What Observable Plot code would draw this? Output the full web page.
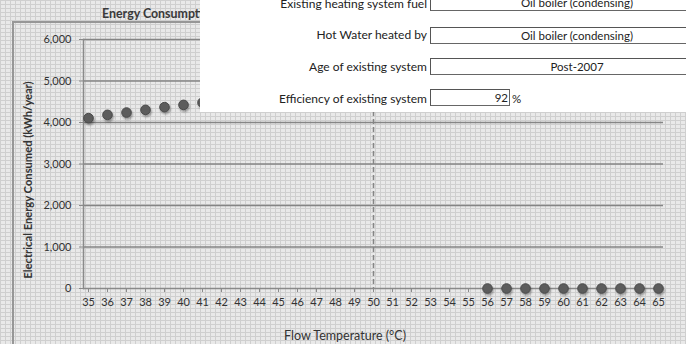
<!DOCTYPE html>
<html>
<head>
<meta charset="utf-8">
<script src="https://cdn.jsdelivr.net/npm/d3@7"></script>
<script src="https://cdn.jsdelivr.net/npm/@observablehq/plot@0.6"></script>
<style>
  html, body { margin: 0; padding: 0; }
  body {
    width: 686px; height: 344px; overflow: hidden; position: relative;
    font-family: Lato, "Open Sans", sans-serif;
    background-color: #e9e9e9;
    background-image:
      linear-gradient(to right, #cfcfcf 1px, transparent 1px),
      linear-gradient(to bottom, #cfcfcf 1px, transparent 1px);
    background-size: 5px 4px;
  }
  #border { position: absolute; left: 12px; top: 21px; width: 700px; height: 400px;
    border-left: 2px solid #979797; border-top: 2px solid #979797; }
  #titleclip { position: absolute; left: 102px; top: 6px; width: 98px; height: 18px; overflow: hidden; }
  #title { font-weight: bold; font-size: 12.4px; color: #3a3a3a; white-space: nowrap; }
  #ytitle { position: absolute; left: 27px; top: 180px; transform: translate(-50%, -50%) rotate(-90deg);
    font-weight: bold; font-size: 11.2px; color: #333; white-space: nowrap; }
  #xtitle { position: absolute; left: 345px; top: 335px; transform: translate(-50%, -50%);
    font-size: 12.5px; color: #333; white-space: nowrap; }
  #chart { position: absolute; left: 0; top: 0; }
  #chart svg circle { filter: drop-shadow(1px 2px 1.2px rgba(0,0,0,0.35)); }
  #panel { position: absolute; left: 200px; top: 0; width: 486px; height: 112px; background: #fff; }
  .lbl { position: absolute; right: 259px; font-size: 12px; color: #222; white-space: nowrap; transform: translateY(-50%); }
  .box { position: absolute; left: 230px; height: 15px; border: 1px solid #666; border-top-color: #555; border-left-color: #555;
    background: #fff; font-size: 11.5px; color: #222; line-height: 15px; white-space: nowrap; }
</style>
</head>
<body>
<div id="border"></div>
<div id="titleclip"><div id="title">Energy Consumption vs Flow Temperature</div></div>
<div id="ytitle">Electrical Energy Consumed (kWh/year)</div>
<div id="xtitle">Flow Temperature (°C)</div>
<div id="chart"></div>
<div id="panel"></div>
<script>
// Category tick labels (flow temperature, °C)
const flowTemps = [35,36,37,38,39,40,41,42,43,44,45,46,47,48,49,50,51,52,53,54,55,56,57,58,59,60,61,62,63,64,65];
// Visible points: temperature and electrical energy consumed (kWh/year)
const pointTemps = [35,36,37,38,39,40,41,56,57,58,59,60,61,62,63,64,65];
const pointValues = [4105,4185,4240,4305,4370,4425,4480,0,0,0,0,0,0,0,0,0,0];
// Y tick labels
const yTicks = [0,1000,2000,3000,4000,5000,6000];
// Marker line temperature
const markerTemp = [50];
// Panel rows
const panelLabels = ["Existing heating system fuel","Hot Water heated by","Age of existing system","Efficiency of existing system"];
const panelValues = ["Oil boiler (condensing)","Oil boiler (condensing)","Post-2007","92"];

const data = pointTemps.map((t, i) => ({t, v: pointValues[i]}));

const chart = Plot.plot({
  width: 686, height: 344,
  marginLeft: 83, marginRight: 23, marginTop: 39, marginBottom: 56,
  style: {background: "transparent", fontFamily: "Lato, 'Open Sans', sans-serif", fontSize: "11px", color: "#333", overflow: "visible"},
  x: {type: "point", domain: flowTemps, padding: 0.08, label: null},
  y: {domain: [0, 6000], label: null},
  marks: [
    Plot.ruleY(yTicks.filter(d => d > 0), {stroke: "#858585", strokeWidth: 1.6}),
    Plot.ruleX(markerTemp, {stroke: "#858585", strokeWidth: 1.5, strokeDasharray: "5,3"}),
    Plot.frame({anchor: "left", stroke: "#8a8a8a", strokeWidth: 1.5}),
    Plot.ruleY([0], {stroke: "#8a8a8a", strokeWidth: 1.5}),
    Plot.axisY({ticks: yTicks, tickFormat: d3.format(","), tickSize: 4, tickPadding: 8, stroke: "#8a8a8a", fill: "#333", label: null}),
    Plot.axisX({ticks: flowTemps, tickSize: 4, tickPadding: 6, stroke: "#8a8a8a", fill: "#333", label: null}),
    Plot.dot(data, {x: "t", y: "v", r: 4.8, fill: "#5c5c5c", stroke: "#4a4a4a", strokeWidth: 1})
  ]
});
document.getElementById("chart").appendChild(chart);

// Form panel overlay
const panel = document.getElementById("panel");
const rowY = [3, 34, 66, 98];
const boxTop = [-6, 27, 58, 89];
panelLabels.forEach((lab, i) => {
  const l = document.createElement("div");
  l.className = "lbl"; l.textContent = lab; l.style.top = rowY[i] + "px";
  panel.appendChild(l);
  const b = document.createElement("div");
  b.className = "box"; b.style.top = boxTop[i] + "px";
  if (i < 3) {
    b.style.width = "292px"; b.style.textAlign = "center"; b.textContent = panelValues[i];
  } else {
    b.style.width = "77px"; b.style.textAlign = "right"; b.style.paddingRight = "1px"; b.textContent = panelValues[i];
    const p = document.createElement("div");
    p.style.cssText = "position:absolute;left:312px;top:" + (rowY[i]) + "px;transform:translateY(-50%);font-size:11.5px;color:#222";
    p.textContent = "%";
    panel.appendChild(p);
  }
  panel.appendChild(b);
});
</script>
</body>
</html>
